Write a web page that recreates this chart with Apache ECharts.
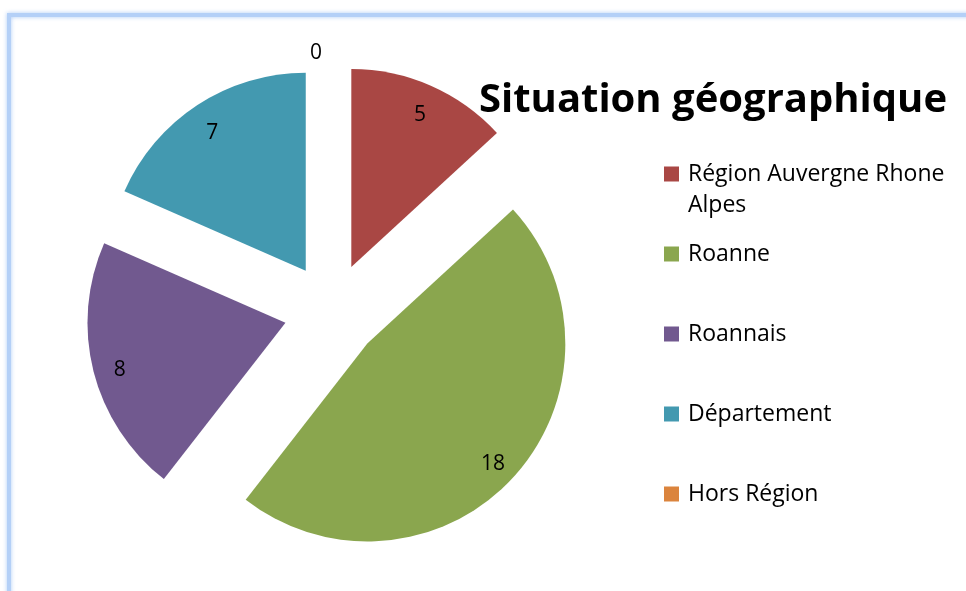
<!DOCTYPE html>
<html>
<head>
<meta charset="utf-8">
<script src="https://cdn.jsdelivr.net/npm/echarts@6/dist/echarts.min.js"></script>
<style>
html,body{margin:0;padding:0;background:#fff;}
#c{width:966px;height:591px;}
</style>
</head>
<body>
<div id="c"></div>
<script>
var categories = ['Région Auvergne Rhone Alpes', 'Roanne', 'Roannais', 'Département', 'Hors Région'];
var values = [5, 18, 8, 7, 0];
var colors = ['#A94744', '#8AA64E', '#71598F', '#4399B0', '#DB843D'];
var title = 'Situation géographique';
var firstLegendLines = ['Région Auvergne Rhone', 'Alpes'];

var FONT = '"Open Sans", Lato, sans-serif';
var center = [332, 311];
var R = 198;
var OFFSET = 48;

function buildData(withLabels) {
  return categories.map(function (name, i) {
    var d = { name: name, value: values[i], selected: true, itemStyle: { color: colors[i] } };
    if (!withLabels) return d;
    d.itemStyle = { color: 'rgba(0,0,0,0)' };
    if (values[i] === 0) {
      d.label = { position: 'outside', distanceToLabelLine: 10, formatter: '{c}' };
      d.labelLine = { show: false, length: 12, length2: 0 };
    }
    return d;
  });
}

var chart = echarts.init(document.getElementById('c'), null, { renderer: 'canvas' });
chart.setOption({
  backgroundColor: '#fff',
  animation: false,
  graphic: [{
    type: 'rect',
    shape: { x: 9, y: 15, width: 1000, height: 620 },
    style: { fill: 'none', stroke: '#b4d0f7', lineWidth: 4, shadowBlur: 4, shadowColor: 'rgba(120,170,240,0.6)' },
    z: -10, silent: true
  }],
  title: {
    text: title,
    left: 713, top: 81,
    padding: 0,
    textAlign: 'center',
    textStyle: { fontFamily: FONT, fontWeight: 'bold', fontSize: 40, color: '#000' }
  },
  legend: [{
    orient: 'vertical',
    left: 664, top: 127.5,
    padding: 0,
    itemWidth: 15, itemHeight: 15, itemGap: 0,
    icon: 'rect',
    selectedMode: false,
    data: [categories[0]],
    formatter: function () { return ' \n' + firstLegendLines.join('\n'); },
    textStyle: { fontFamily: FONT, fontSize: 23, color: '#000', lineHeight: 31, padding: [0, 0, 0, 4] }
  }, {
    orient: 'vertical',
    left: 664, top: 238.5,
    padding: 0,
    itemWidth: 15, itemHeight: 15, itemGap: 49,
    icon: 'rect',
    selectedMode: false,
    data: categories.slice(1),
    textStyle: { fontFamily: FONT, fontSize: 23, color: '#000', lineHeight: 31, padding: [0, 0, 0, 4] }
  }],
  series: [{
    type: 'pie',
    center: center,
    radius: [0, R],
    startAngle: 90,
    clockwise: true,
    selectedMode: 'multiple',
    selectedOffset: OFFSET,
    avoidLabelOverlap: false,
    silent: true,
    label: { show: false },
    labelLine: { show: false },
    data: buildData(false)
  }, {
    type: 'pie',
    center: center,
    radius: [138, R],
    startAngle: 90,
    clockwise: true,
    selectedMode: 'multiple',
    selectedOffset: OFFSET,
    avoidLabelOverlap: false,
    silent: true,
    showEmptyCircle: false,
    legendHoverLink: false,
    label: {
      show: true, position: 'inside', formatter: '{s| }\n{c}',
      fontFamily: FONT, fontSize: 21, color: '#000', lineHeight: 25,
      rich: { s: { lineHeight: 10, fontSize: 8 } }
    },
    labelLine: { show: false },
    data: buildData(true)
  }]
});
</script>
</body>
</html>
